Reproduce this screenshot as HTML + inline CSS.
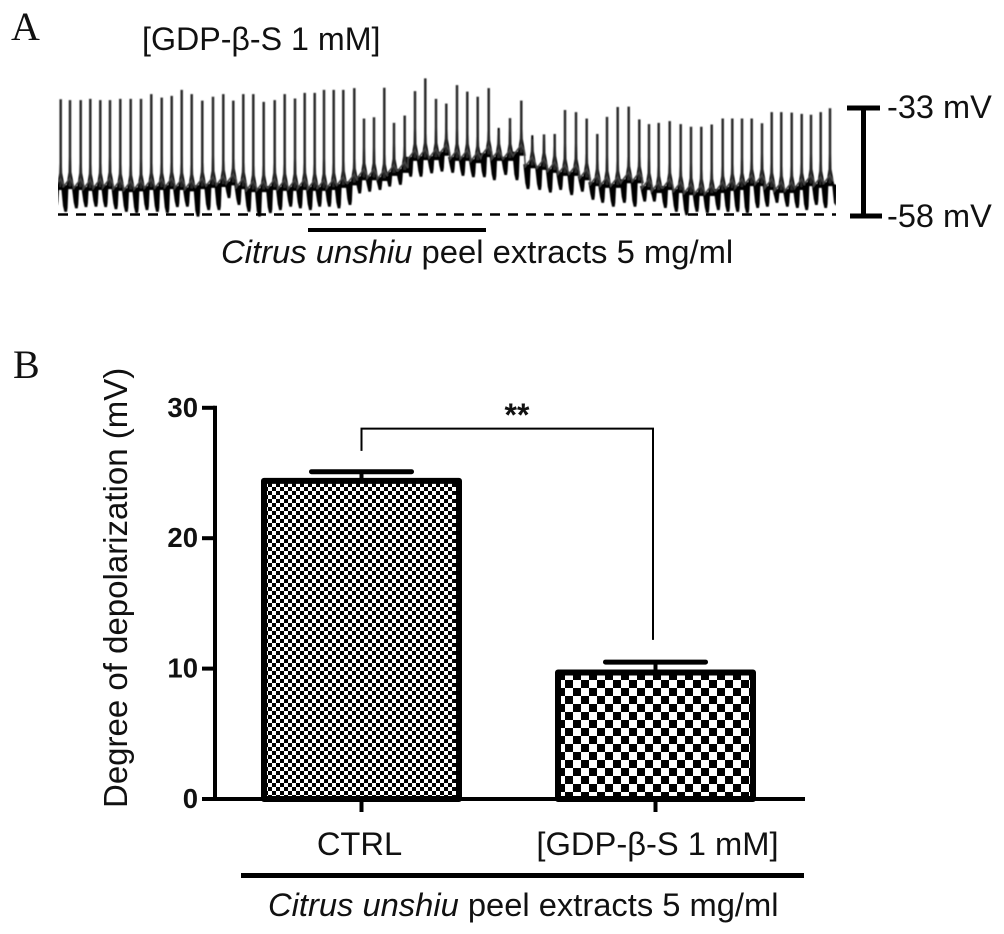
<!DOCTYPE html>
<html lang="en">
<head>
<meta charset="utf-8">
<title>Depolarization by Citrus unshiu peel extracts</title>
<style>
html,body{margin:0;padding:0;background:#fff;}
svg{display:block;}
text{font-family:"Liberation Sans",sans-serif;fill:#111;}
.serif{font-family:"Liberation Serif",serif;}
</style>
</head>
<body>
<svg id="figure" xmlns="http://www.w3.org/2000/svg" width="1004" height="934" viewBox="0 0 1004 934">
  <defs>
    <pattern id="check-fine" patternUnits="userSpaceOnUse" x="264" y="479" width="8" height="8">
      <rect width="8" height="8" fill="#fff"/>
      <rect width="4" height="4" fill="#000"/>
      <rect x="4" y="4" width="4" height="4" fill="#000"/>
    </pattern>
    <pattern id="check-coarse" patternUnits="userSpaceOnUse" x="557" y="672" width="16" height="16">
      <rect width="16" height="16" fill="#fff"/>
      <rect width="8" height="8" fill="#000"/>
      <rect x="8" y="8" width="8" height="8" fill="#000"/>
    </pattern>
    <filter id="soft" x="-5%" y="-5%" width="110%" height="110%"><feGaussianBlur stdDeviation="0.6"/></filter>
    <clipPath id="trace-clip"><rect x="58" y="60" width="778" height="170"/></clipPath>
  </defs>

  <text class="serif" x="11" y="40" font-size="40">A</text>
  <text x="142" y="50" font-size="32.2">[GDP-β-S 1 mM]</text>

  <g clip-path="url(#trace-clip)"><g id="trace" filter="url(#soft)"></g></g>
  <line x1="58" y1="214.5" x2="836" y2="214.5" stroke="#000" stroke-width="2.4" stroke-dasharray="10 8"/>
  <rect x="308" y="228" width="178" height="4" fill="#000"/>
  <text x="221" y="263" font-size="32.8"><tspan font-style="italic">Citrus unshiu</tspan> peel extracts 5 mg/ml</text>

  <g stroke="#000" stroke-width="5" fill="none">
    <line x1="847" y1="108" x2="880" y2="108"/>
    <line x1="863.5" y1="108" x2="863.5" y2="216"/>
    <line x1="850" y1="216" x2="882" y2="216"/>
  </g>
  <text x="887" y="118" font-size="32.5">-33 mV</text>
  <text x="887" y="227" font-size="32.5">-58 mV</text>

  <text class="serif" x="13" y="378" font-size="40">B</text>
  <text transform="translate(127 808) rotate(-90)" font-size="33" fill="#222">Degree of depolarization (mV)</text>

  <g id="bars"></g>
  <g id="y-axis"></g>

  <text x="517" y="426" font-size="32" font-weight="bold" text-anchor="middle">**</text>

  <rect x="241" y="873" width="563" height="5" fill="#000"/>
  <text x="268" y="916" font-size="32.7"><tspan font-style="italic">Citrus unshiu</tspan> peel extracts 5 mg/ml</text>
</svg>

<script>
// Panel A: per-cycle readings; time in s, potentials in mV
const spikeTime = [0.27,1.2,2.27,3.23,4.23,5.2,6.23,7.27,8.3,9.33,10.37,11.37,12.37,13.37,14.43,15.5,16.53,17.53,18.53,19.53,20.57,21.67,22.67,23.7,24.67,25.67,26.6,27.57,28.53,29.63,30.6,31.6,32.63,33.6,34.67,35.7,36.73,37.8,38.83,39.9,40.93,41.97,43.07,44.07,45.2,46.33,47.43,48.6,49.67,50.7,51.8,52.87,53.93,54.9,55.97,57.07,58.13,59.1,60.07,61.17,62.27,63.3,64.33,65.37,66.47,67.43,68.4,69.37,70.4,71.37,72.33,73.37,74.37,75.3,76.27,77.2];
const peakMv = [-31.2,-31.4,-31.4,-31.1,-31.4,-31.4,-31.1,-31.1,-31.1,-30.0,-30.8,-30.4,-29.0,-30.0,-31.5,-30.6,-30.0,-31.5,-30.0,-30.0,-31.8,-31.4,-30.0,-31.0,-29.7,-29.7,-29.0,-29.0,-29.0,-28.6,-35.7,-35.4,-28.5,-36.7,-35.0,-29.3,-26.3,-31.1,-32.2,-27.9,-29.4,-30.6,-28.6,-38.5,-35.6,-31.5,-40.5,-39.4,-39.3,-33.7,-34.2,-35.7,-39.3,-35.3,-33.0,-32.9,-35.9,-37.0,-36.7,-36.3,-37.0,-37.6,-37.6,-37.1,-35.7,-35.7,-35.7,-35.7,-36.8,-34.2,-34.2,-34.3,-34.6,-34.8,-34.2,-33.3];
const plateauMv = [-51.7,-51.5,-51.7,-51.9,-51.7,-51.5,-51.9,-52.2,-52.0,-51.7,-51.7,-51.5,-51.7,-52.0,-51.5,-51.2,-51.0,-50.6,-51.5,-52.2,-52.2,-51.7,-51.9,-51.9,-51.7,-51.9,-51.9,-51.7,-51.2,-50.6,-49.4,-49.4,-49.6,-48.4,-47.7,-44.9,-44.7,-44.7,-43.7,-44.9,-44.9,-45.4,-44.0,-44.9,-44.9,-43.7,-46.6,-47.0,-47.7,-48.4,-48.4,-49.4,-50.8,-51.2,-51.2,-50.1,-50.1,-51.7,-52.4,-51.7,-52.4,-52.9,-53.1,-53.1,-52.4,-51.9,-51.7,-50.8,-50.8,-51.7,-52.4,-52.4,-51.7,-50.8,-51.2,-50.8];
const troughMv = [-55.9,-57.5,-56.7,-56.4,-56.3,-56.4,-56.9,-57.5,-57.8,-57.1,-57.5,-57.8,-56.4,-56.3,-58.6,-57.1,-57.1,-54.3,-55.9,-57.5,-58.6,-57.8,-57.1,-56.3,-56.7,-57.1,-56.3,-56.3,-56.7,-55.9,-53.2,-52.8,-52.4,-51.6,-51.2,-49.3,-49.3,-48.5,-48.1,-48.4,-49.1,-49.4,-49.4,-50.1,-48.9,-50.1,-52.2,-52.4,-53.0,-52.4,-53.6,-52.8,-54.7,-55.4,-56.3,-55.4,-56.3,-55.1,-55.1,-56.6,-57.5,-58.3,-57.5,-57.8,-57.1,-57.5,-57.5,-57.8,-56.6,-56.3,-55.4,-56.3,-56.6,-57.1,-55.9,-56.6];

// Panel B
const categories = ['CTRL','[GDP-β-S 1 mM]'];
const barValues = [24.4,9.7];
const barErrors = [0.7,0.8];
const barFills = ['url(#check-fine)','url(#check-coarse)'];
const yTicks = [0,10,20,30];
const bracketLevel = 28.4;
const bracketDrops = [26.7,12.2];

const NS = 'http://www.w3.org/2000/svg';
function mk(parent, tag, attrs, text){
  const el = document.createElementNS(NS, tag);
  for (const k in attrs) el.setAttribute(k, attrs[k]);
  if (text !== undefined) el.textContent = text;
  parent.appendChild(el);
  return el;
}

// Panel A axes
const xTime = t => 58 + t * 10;
const yMv = mv => 107 + (-33 - mv) * 4.28;

const trace = document.getElementById('trace');
let outline = '';
spikeTime.forEach((t, i) => {
  const x = xTime(t);
  const top = yMv(peakMv[i]);
  const up = yMv(plateauMv[i]);
  const low = yMv(troughMv[i]);

  const wedge = mk(trace, 'polygon', {points:
    `${x-9},${up-1} ${x-1.5},${up-1} ${x-2.4},${low-4} ${x-3},${low} ${x-5.6},${low} ${x-7},${low-6}`, fill:'#000'});
  
  

  const hump = mk(trace, 'polygon', {points:
    `${x-4},${up+3} ${x-1.5},${up-14} ${x-1},${up-30} ${x+1},${up-30} ${x+1.5},${up-14} ${x+4.5},${up+3}`, fill:'#000'});
  
  

  const spike = mk(trace, 'line', {x1:x, y1:up, x2:x, y2:top, stroke:'#2a2a2a', 'stroke-width':2.5});
  
  

  outline += (i ? 'L' : 'M') + (x-7) + ' ' + (up+1) + 'L' + x + ' ' + (up-8) + 'L' + (x+3) + ' ' + (up-2);
});
const lastX = xTime(spikeTime[spikeTime.length-1]);
const lastUp = yMv(plateauMv[plateauMv.length-1]);
const lastLow = yMv(troughMv[troughMv.length-1]);
const tail = mk(trace, 'polygon', {points:`${lastX+2},${lastUp} ${lastX+7},${lastUp+2} ${lastX+6},${lastLow-2} ${lastX+4},${lastLow-5}`, fill:'#000'});


const plateau = mk(trace, 'path', {d:outline, fill:'none', stroke:'#444', 'stroke-width':1.5});



// Panel B axes
const yVal = v => 799 - v * 13.04;
const xCat = i => 361.5 + i * 294;

const bars = document.getElementById('bars');
categories.forEach((c, i) => {
  const cx = xCat(i);
  const stem = mk(bars, 'line', {x1:cx, x2:cx, y1:yVal(barValues[i]), y2:yVal(barValues[i]+barErrors[i]), stroke:'#000', 'stroke-width':4});
  
  

  const cap = mk(bars, 'line', {x1:cx-50, x2:cx+50, y1:yVal(barValues[i]+barErrors[i]), y2:yVal(barValues[i]+barErrors[i]), stroke:'#000', 'stroke-width':5, 'stroke-linecap':'round'});
  
  

  const bar = mk(bars, 'rect', {x:cx-97.5, y:yVal(barValues[i]), width:195, height:799-yVal(barValues[i]), fill:barFills[i], stroke:'#000', 'stroke-width':6, 'stroke-linejoin':'round'});
  
  

  const tick = mk(bars, 'line', {x1:cx, x2:cx, y1:799, y2:812, stroke:'#000', 'stroke-width':4});
  
  

  const label = mk(bars, 'text', {x:cx + (i ? 2 : -2), y:855, 'font-size':32.7, 'text-anchor':'middle'}, c);
  
  
});

const bracket = mk(bars, 'path', {d:`M${xCat(0)} ${yVal(bracketDrops[0])}V${yVal(bracketLevel)}H${xCat(1)-2.5}V${yVal(bracketDrops[1])}`, fill:'none', stroke:'#000', 'stroke-width':2});



const yAxis = document.getElementById('y-axis');
const axisV = mk(yAxis, 'line', {x1:215, x2:215, y1:yVal(30)-2, y2:801, stroke:'#000', 'stroke-width':4});


const axisH = mk(yAxis, 'line', {x1:213, x2:805, y1:799, y2:799, stroke:'#000', 'stroke-width':4});


yTicks.forEach(v => {
  const tick = mk(yAxis, 'line', {x1:202, x2:215, y1:yVal(v), y2:yVal(v), stroke:'#000', 'stroke-width':4});
  
  
  const label = mk(yAxis, 'text', {x:198, y:yVal(v)+9, 'font-size':27.5, 'font-weight':'bold', 'text-anchor':'end'}, String(v));
  
  
});
</script>
</body>
</html>
